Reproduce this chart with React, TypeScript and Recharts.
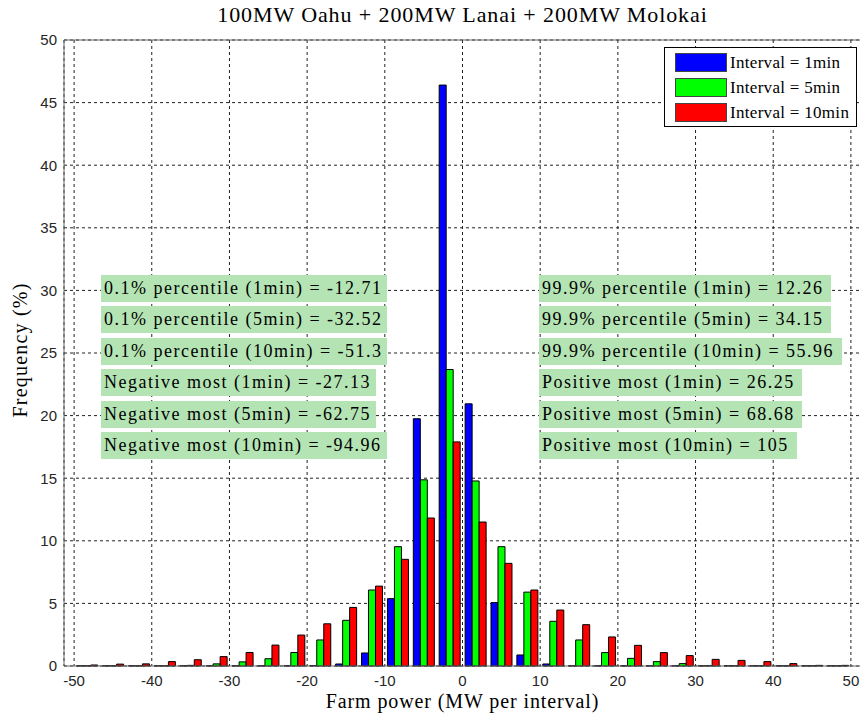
import { BarChart, Bar, XAxis, YAxis, CartesianGrid, ReferenceLine } from 'recharts';

// bin centres (MW per interval)
const binCenters = [
  -48.33, -45, -41.67, -38.33, -35, -31.67, -28.33, -25, -21.67, -18.33,
  -15, -11.67, -8.33, -5, -1.67, 1.67, 5, 8.33, 11.67, 15,
  18.33, 21.67, 25, 28.33, 31.67, 35, 38.33, 41.67, 45, 48.33,
];

// frequency (%) per interval length
const interval1 = [
  0.02, 0.02, 0.02, 0.02, 0.02, 0.02, 0.02, 0.02, 0.02, 0.04,
  0.16, 1.04, 5.38, 19.75, 46.4, 20.94, 5.06, 0.88, 0.16, 0.02,
  0.02, 0.02, 0.02, 0.02, 0.02, 0.02, 0.02, 0.02, 0.02, 0.02,
];
const interval5 = [
  0.02, 0.02, 0.02, 0.02, 0.05, 0.17, 0.33, 0.58, 1.08, 2.08,
  3.65, 6.07, 9.53, 14.87, 23.68, 14.78, 9.53, 5.9, 3.57, 2.08,
  1.07, 0.61, 0.35, 0.19, 0.03, 0.02, 0.02, 0.02, 0.02, 0.02,
];
const interval10 = [
  0.08, 0.15, 0.17, 0.35, 0.5, 0.75, 1.08, 1.67, 2.47, 3.37,
  4.68, 6.38, 8.52, 11.82, 17.9, 11.5, 8.2, 6.07, 4.47, 3.3,
  2.32, 1.65, 1.07, 0.83, 0.53, 0.45, 0.35, 0.19, 0.05, 0.05,
];

const xTicks = [-50, -40, -30, -20, -10, 0, 10, 20, 30, 40, 50];
const yTicks = [0, 5, 10, 15, 20, 25, 30, 35, 40, 45, 50];

const seriesNames = ['Interval = 1min', 'Interval = 5min', 'Interval = 10min'];
const seriesColors = ['#0000ff', '#00ff00', '#ff0000'];

const leftNotes = [
  '0.1% percentile (1min) = -12.71',
  '0.1% percentile (5min) = -32.52',
  '0.1% percentile (10min) = -51.3',
  'Negative most (1min) = -27.13',
  'Negative most (5min) = -62.75',
  'Negative most (10min) = -94.96',
];
const rightNotes = [
  '99.9% percentile (1min) = 12.26',
  '99.9% percentile (5min) = 34.15',
  '99.9% percentile (10min) = 55.96',
  'Positive most (1min) = 26.25',
  'Positive most (5min) = 68.68',
  'Positive most (10min) = 105',
];
const leftNoteWidths = [286, 286, 286, 275, 275, 286];
const rightNoteWidths = [292, 292, 303, 263, 263, 258];

const data = binCenters.map((x, i) => ({
  x,
  i1: interval1[i],
  i5: interval5[i],
  i10: interval10[i],
}));

const serif = '"Liberation Serif", "Times New Roman", serif';
const sans = '"Liberation Sans", Arial, sans-serif';
const noteTops = [275, 306.4, 337.8, 369.2, 400.6, 432];

const Note = ({ text, left, top, width }: { text: string; left: number; top: number; width: number }) => (
  <div
    style={{
      position: 'absolute',
      left,
      top,
      width,
      height: 27,
      boxSizing: 'border-box',
      lineHeight: '27px',
      paddingLeft: 3,
      background: '#b4e4b4',
      fontFamily: serif,
      fontSize: 18,
      letterSpacing: 1.5,
      color: '#000',
      whiteSpace: 'nowrap',
      overflow: 'hidden',
    }}
  >
    {text}
  </div>
);

const App = () => (
  <div style={{ position: 'absolute', left: 0, top: 0, width: 860, height: 719, overflow: 'hidden', background: '#fff' }}>
    <BarChart
      width={870}
      height={719}
      data={data}
      margin={{ top: 40, right: 9, left: 0, bottom: 0 }}
      barGap={0}
      barCategoryGap="10%"
    >
      <CartesianGrid stroke="#222" strokeDasharray="3 3" />
      <XAxis
        dataKey="x"
        type="number"
        domain={[-51.3, 51.3]}
        ticks={xTicks}
        allowDataOverflow
        height={53}
        tickLine={{ stroke: 'none' }}
        tickSize={7}
        tickMargin={2}
        axisLine={{ stroke: '#666' }}
        tick={{ fontFamily: sans, fontSize: 15, fill: '#262626' }}
      />
      <YAxis
        type="number"
        domain={[0, 50]}
        ticks={yTicks}
        width={64}
        tickLine={{ stroke: 'none' }}
        tickSize={5}
        tickMargin={2}
        axisLine={{ stroke: '#666' }}
        tick={{ fontFamily: sans, fontSize: 15, fill: '#262626' }}
      />
      <ReferenceLine y={50} stroke="#666" strokeDasharray="0" />
      <Bar dataKey="i1" fill={seriesColors[0]} stroke="#000" strokeWidth={1} isAnimationActive={false} />
      <Bar dataKey="i5" fill={seriesColors[1]} stroke="#000" strokeWidth={1} isAnimationActive={false} />
      <Bar dataKey="i10" fill={seriesColors[2]} stroke="#000" strokeWidth={1} isAnimationActive={false} />
    </BarChart>

    <div
      style={{
        position: 'absolute', left: 64, top: 4, width: 797, lineHeight: '22px',
        textAlign: 'center', fontFamily: serif, fontSize: 22, letterSpacing: 0.9,
      }}
    >
      100MW Oahu + 200MW Lanai + 200MW Molokai
    </div>
    <div
      style={{
        position: 'absolute', left: 64, top: 691, width: 797, lineHeight: '20px',
        textAlign: 'center', fontFamily: serif, fontSize: 20, letterSpacing: 0.9,
      }}
    >
      Farm power (MW per interval)
    </div>
    <div
      style={{
        position: 'absolute', left: -80, top: 340, width: 200, height: 20, lineHeight: '20px',
        textAlign: 'center', fontFamily: serif, fontSize: 20, letterSpacing: 1.2,
        transform: 'rotate(-90deg)', transformOrigin: 'center',
      }}
    >
      Frequency (%)
    </div>

    {leftNotes.map((t, i) => (
      <Note key={t} text={t} left={101} top={noteTops[i]} width={leftNoteWidths[i]} />
    ))}
    {rightNotes.map((t, i) => (
      <Note key={t} text={t} left={539} top={noteTops[i]} width={rightNoteWidths[i]} />
    ))}

    <div
      style={{
        position: 'absolute', left: 664, top: 47, width: 191, height: 78,
        border: '1px solid #000', background: '#fff',
      }}
    >
      {seriesNames.map((name, i) => (
        <div key={name} style={{ position: 'absolute', left: 10, top: 5 + i * 25, height: 19, display: 'flex', alignItems: 'center' }}>
          <div style={{ width: 50, height: 17, background: seriesColors[i], border: '1px solid #444' }} />
          <span style={{ marginLeft: 3, fontFamily: serif, fontSize: 17, letterSpacing: 0.3, whiteSpace: 'nowrap' }}>{name}</span>
        </div>
      ))}
    </div>
  </div>
);

export default App;
